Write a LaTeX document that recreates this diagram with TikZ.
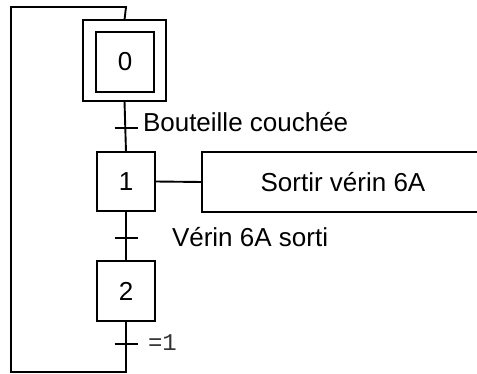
\documentclass[tikz,border=0pt]{standalone}
\usepackage{fontspec}
\setmainfont{Liberation Sans}
\setmonofont{Liberation Mono}
\begin{document}
\begin{tikzpicture}[x=1pt,y=-1pt,
  line width=1.9pt,
  every node/.style={inner sep=0pt, outer sep=0pt, font=\fontsize{26}{30}\selectfont},
  stepbox/.style={draw, minimum width=58pt, minimum height=60pt},
  actionbox/.style={draw, minimum width=282pt, minimum height=60pt},
  tick/.style={line width=1.9pt},
  cond/.style={anchor=base west},
]
\useasboundingbox (0,0) rectangle (477,374);
\clip (0,0) rectangle (477,374);

% initial step 0 (double frame)
\node[draw, minimum width=83pt, minimum height=81pt] (s0out) at (124.5,60.5) {};
\node[stepbox] (s0) at (125,62) {0};

% steps 1 and 2
\node[stepbox, minimum height=59pt] (s1) at (126,181.5) {1};
\node[stepbox] (s2) at (126,291) {2};

% action of step 1
\node[actionbox] (a1) at (343,182) {Sortir vérin 6A};

% transition points
\coordinate (t1) at (126,128);
\coordinate (t2) at (126,238);
\coordinate (t3) at (126,344);

% loop-back corners
\coordinate (lb) at (126,372);
\coordinate (lbl) at (11,372);
\coordinate (ltl) at (11,7);
\coordinate (lt) at (126,7);

% vertical links
\draw (s0out.south) -- (s1.north);
\draw (s1.south) -- (s2.north);
\draw (s2.south) -- (lb) -- (lbl) -- (ltl) -- (lt) -- (s0out.north);

% action link
\draw (s1.east) -- (a1.west);

% transition ticks
\foreach \t in {t1,t2,t3}
  \draw[tick] ([xshift=-11.5pt]\t) -- ([xshift=11.5pt]\t);

% receptivities
\node[cond] (r1) at (143,132) {Bouteille couchée};
\node[cond] (r2) at (172,247) {Vérin 6A sorti};
\node[cond, font=\fontsize{24}{28}\ttfamily, text=black!80] (r3) at (148,351) {=1};
\end{tikzpicture}
\end{document}
